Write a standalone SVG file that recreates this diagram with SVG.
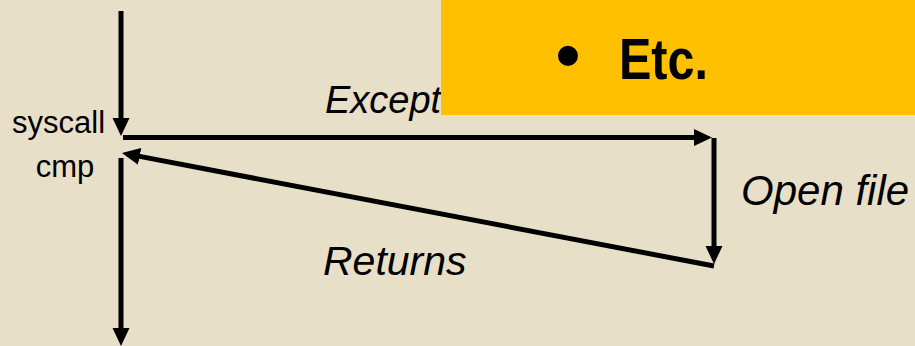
<svg xmlns="http://www.w3.org/2000/svg" width="915" height="346" viewBox="0 0 915 346">
<defs>
<marker id="ah" markerUnits="userSpaceOnUse" markerWidth="20" markerHeight="20" viewBox="0 -10 20 20" refX="8" refY="0" orient="auto">
<path d="M0,-8.5 L18,0 L0,8.5 Z" fill="#000"/>
</marker>
<style>
.ln{stroke:#000;stroke-width:5;fill:none;marker-end:url(#ah)}
.it{font-family:"Liberation Sans",Arial,sans-serif;font-style:italic;font-size:41px;fill:#000}
.lb{font-family:"Liberation Sans",Arial,sans-serif;font-size:31px;fill:#000}
.bd{font-family:"Liberation Sans",Arial,sans-serif;font-weight:bold;fill:#000}
</style>
</defs>
<rect x="0" y="0" width="915" height="346" fill="#E8DFC8"/>
<g id="labels">
<text class="lb" x="12" y="133">syscall</text>
<text class="lb" x="65" y="177" text-anchor="middle">cmp</text>
<text class="it" x="325" y="113" style="font-size:38px">Exception</text>
<text class="it" x="323" y="275">Returns</text>
<text class="it" x="741" y="205" style="font-size:42px">Open file</text>
</g>
<g id="connectors">
<line class="ln" x1="121" y1="11" x2="121" y2="126"/>
<line class="ln" x1="123" y1="137.5" x2="702" y2="137.5"/>
<line class="ln" x1="714" y1="138" x2="714" y2="254"/>
<line class="ln" x1="714" y1="266" x2="131.8" y2="154.9"/>
<line class="ln" x1="121" y1="158" x2="121" y2="336"/>
</g>
<g id="callout">
<rect x="441" y="0" width="474" height="115" fill="#FFC000"/>
<text class="bd" x="568" y="79" font-size="70" text-anchor="middle">•</text>
<text class="bd" x="619" y="79" font-size="57" textLength="89" lengthAdjust="spacingAndGlyphs">Etc.</text>
</g>
</svg>
